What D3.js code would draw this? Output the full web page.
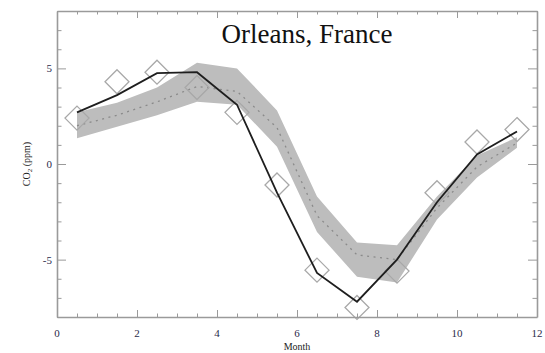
<!DOCTYPE html>
<html>
<head>
<meta charset="utf-8">
<script src="https://cdn.jsdelivr.net/npm/d3@7"></script>
<style>
  body { margin: 0; background: #fff; }
</style>
</head>
<body>
<div id="chart"></div>
<script>
// monthly mid-points
const months = [0.5, 1.5, 2.5, 3.5, 4.5, 5.5, 6.5, 7.5, 8.5, 9.5, 10.5, 11.5];
// observed (black line)
const observed = [2.7, 3.6, 4.75, 4.8, 3.1, -1.5, -5.7, -7.2, -5.0, -2.0, 0.5, 1.7];
// diamonds
const measured = [2.4, 4.3, 4.8, 4.0, 2.7, -1.1, -5.55, -7.5, -5.6, -1.5, 1.15, 1.8];
// model band and median
const bandHigh = [2.7, 3.2, 4.0, 5.3, 5.0, 2.8, -1.7, -4.1, -4.25, -1.7, 0.45, 1.4];
const bandLow = [1.35, 1.95, 2.55, 3.25, 3.1, 0.9, -3.55, -5.9, -6.2, -2.9, -0.7, 0.85];
const bandMid = [2.0, 2.55, 3.25, 4.05, 3.8, 1.9, -2.7, -4.75, -5.0, -2.3, -0.15, 1.1];

const xTicks = [0, 2, 4, 6, 8, 10, 12];
const yTicks = [-5, 0, 5];

const width = 545, height = 353;
const mLeft = 57, mRight = 537, mTop = 11, mBottom = 317;
const serif = '"Liberation Serif", "Times New Roman", "DejaVu Serif", serif';

const svg = d3.select('#chart').append('svg')
  .attr('width', width)
  .attr('height', height)
  .attr('font-family', serif);

const x = d3.scaleLinear().domain([0, 12]).range([mLeft, mRight]);
const y = d3.scaleLinear().domain([-8, 8]).range([mBottom, mTop]);

const pts = months.map((m, i) => ({m, obs: observed[i], meas: measured[i], hi: bandHigh[i], lo: bandLow[i], mid: bandMid[i]}));

// band
svg.append('path')
  .datum(pts)
  .attr('fill', '#bdbdbd')
  .attr('d', d3.area().x(d => x(d.m)).y0(d => y(d.lo)).y1(d => y(d.hi)));

// median dotted
svg.append('path')
  .datum(pts)
  .attr('fill', 'none')
  .attr('stroke', '#8a8a8a')
  .attr('stroke-width', 1.3)
  .attr('stroke-dasharray', '2,4.5')
  .attr('d', d3.line().x(d => x(d.m)).y(d => y(d.mid)));

// diamonds
svg.append('g').selectAll('path')
  .data(pts)
  .join('path')
  .attr('transform', d => `translate(${x(d.m)},${y(d.meas)})`)
  .attr('d', 'M0,-12L12,0L0,12L-12,0Z')
  .attr('fill', 'none')
  .attr('stroke', '#a8a8a8')
  .attr('stroke-width', 1.3);

// observed line
svg.append('path')
  .datum(pts)
  .attr('fill', 'none')
  .attr('stroke', '#1e1e1e')
  .attr('stroke-width', 1.8)
  .attr('d', d3.line().x(d => x(d.m)).y(d => y(d.obs)));

// frame and ticks
const axisColor = '#9a9a9a';
const gx = d3.range(0, 12.01, 0.5);
const gy = d3.range(-8, 8.01, 1);

const axB = svg.append('g').attr('transform', `translate(0,${mBottom})`)
  .call(d3.axisBottom(x).tickValues(gx).tickSize(0).tickFormat(''));
const axT = svg.append('g').attr('transform', `translate(0,${mTop})`)
  .call(d3.axisTop(x).tickValues(gx).tickSize(0).tickFormat(''));
const axL = svg.append('g').attr('transform', `translate(${mLeft},0)`)
  .call(d3.axisLeft(y).tickValues(gy).tickSize(0).tickFormat(''));
const axR = svg.append('g').attr('transform', `translate(${mRight},0)`)
  .call(d3.axisRight(y).tickValues(gy).tickSize(0).tickFormat(''));

[axB, axT, axL, axR].forEach(g => {
  g.select('.domain').attr('stroke', axisColor).attr('stroke-width', 1.6);
  g.selectAll('.tick line').attr('stroke', axisColor).attr('stroke-width', 1);
});
axB.selectAll('.tick line').attr('y2', d => d % 2 === 0 ? -7 : -3.5);
axT.selectAll('.tick line').attr('y2', d => d % 2 === 0 ? 7 : 3.5);
axL.selectAll('.tick line').attr('x2', d => d % 5 === 0 ? 9 : 4.5);
axR.selectAll('.tick line').attr('x2', d => d % 5 === 0 ? -9 : -4.5);

// tick labels
svg.append('g').selectAll('text')
  .data(xTicks)
  .join('text')
  .attr('x', d => x(d))
  .attr('y', mBottom + 20)
  .attr('text-anchor', 'middle')
  .attr('font-size', 11)
  .attr('fill', '#2a2a4a')
  .text(d => d);

svg.append('g').selectAll('text')
  .data(yTicks)
  .join('text')
  .attr('x', mLeft - 5)
  .attr('y', d => y(d) + 4)
  .attr('text-anchor', 'end')
  .attr('font-size', 11)
  .attr('fill', '#2a2a4a')
  .text(d => d);

// axis titles
svg.append('text')
  .attr('x', (mLeft + mRight) / 2)
  .attr('y', 350)
  .attr('text-anchor', 'middle')
  .attr('font-size', 10)
  .attr('fill', '#222')
  .text('Month');

const yl = svg.append('text')
  .attr('transform', `translate(30,${y(0)}) rotate(-90)`)
  .attr('text-anchor', 'middle')
  .attr('font-size', 10)
  .attr('fill', '#222');
yl.append('tspan').text('CO');
yl.append('tspan').attr('font-size', 7).attr('dy', 2).text('2');
yl.append('tspan').attr('dy', -2).text(' (ppm)');

// title
svg.append('text')
  .attr('x', 307)
  .attr('y', 43)
  .attr('text-anchor', 'middle')
  .attr('font-size', 27)
  .attr('fill', '#111')
  .attr('font-family', serif)
  .text('Orleans, France');
</script>
</body>
</html>
